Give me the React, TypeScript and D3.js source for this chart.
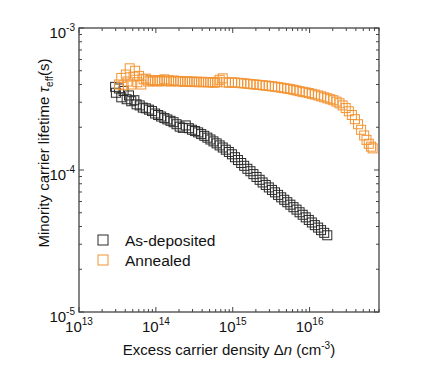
import * as d3 from "d3";

// Excess carrier density (cm^-3) and lifetime (s)
const asDepN = [
  2.95e13, 3.02e13, 3.31e13, 3.55e13, 3.8e13, 4.17e13, 4.47e13, 4.79e13, 5.25e13, 5.62e13,
  6.17e13, 6.76e13, 7.41e13, 8.13e13, 8.91e13, 9.77e13, 1.07e14, 1.17e14, 1.29e14, 1.41e14,
  1.55e14, 1.7e14, 1.86e14, 2.04e14, 2.24e14, 2.45e14, 2.69e14, 2.95e14, 3.24e14, 3.55e14,
  3.89e14, 4.27e14, 4.68e14, 5.13e14, 5.62e14, 6.17e14, 6.76e14, 7.41e14, 8.13e14, 8.91e14,
  9.77e14, 1.07e15, 1.17e15, 1.29e15, 1.41e15, 1.55e15, 1.7e15, 1.86e15, 2.04e15, 2.24e15,
  2.45e15, 2.69e15, 2.95e15, 3.24e15, 3.55e15, 3.89e15, 4.27e15, 4.68e15, 5.13e15, 5.62e15,
  6.17e15, 6.76e15, 7.41e15, 8.13e15, 8.91e15, 9.77e15, 1.07e16, 1.17e16, 1.29e16, 1.41e16,
  1.55e16, 1.7e16,
];
const asDepTau = [
  3.85e-4, 3.5e-4, 3.75e-4, 3.25e-4, 3.6e-4, 3.15e-4, 3.35e-4, 3.05e-4, 3.1e-4, 2.9e-4,
  2.85e-4, 2.75e-4, 2.72e-4, 2.66e-4, 2.6e-4, 2.5e-4, 2.44e-4, 2.38e-4, 2.32e-4, 2.27e-4,
  2.22e-4, 2.17e-4, 2.1e-4, 2.02e-4, 1.98e-4, 2.06e-4, 1.97e-4, 1.92e-4, 1.88e-4, 1.84e-4,
  1.79e-4, 1.74e-4, 1.69e-4, 1.64e-4, 1.59e-4, 1.54e-4, 1.49e-4, 1.44e-4, 1.39e-4, 1.34e-4,
  1.29e-4, 1.23e-4, 1.175e-4, 1.12e-4, 1.07e-4, 1.02e-4, 9.8e-5, 9.35e-5, 8.93e-5, 8.53e-5,
  8.17e-5, 7.85e-5, 7.54e-5, 7.24e-5, 6.96e-5, 6.68e-5, 6.42e-5, 6.17e-5, 5.93e-5, 5.7e-5,
  5.47e-5, 5.26e-5, 5.04e-5, 4.84e-5, 4.64e-5, 4.45e-5, 4.27e-5, 4.09e-5, 3.93e-5, 3.77e-5,
  3.61e-5, 3.47e-5,
];

const annealN = [
  3.31e13, 3.55e13, 3.8e13, 4.07e13, 4.27e13, 4.57e13, 4.79e13, 5.13e13, 5.37e13, 5.75e13,
  6.03e13, 6.46e13, 6.92e13, 7.41e13, 7.94e13, 8.51e13, 9.12e13, 9.77e13, 1.05e14, 1.12e14,
  1.2e14, 1.29e14, 1.38e14, 1.48e14, 1.58e14, 1.7e14, 1.82e14, 1.95e14, 2.09e14, 2.24e14,
  2.4e14, 2.57e14, 2.75e14, 2.95e14, 3.16e14, 3.39e14, 3.63e14, 3.89e14, 4.17e14, 4.47e14,
  4.79e14, 5.13e14, 5.5e14, 5.89e14, 6.31e14, 6.76e14, 7.41e14, 8.13e14, 8.91e14, 9.77e14,
  1.07e15, 1.17e15, 1.29e15, 1.41e15, 1.55e15, 1.7e15, 1.86e15, 2.04e15, 2.24e15, 2.45e15,
  2.69e15, 2.95e15, 3.24e15, 3.55e15, 3.89e15, 4.27e15, 4.68e15, 5.13e15, 5.62e15, 6.17e15,
  6.76e15, 7.41e15, 8.13e15, 8.91e15, 9.77e15, 1.07e16, 1.17e16, 1.29e16, 1.41e16, 1.55e16,
  1.7e16, 1.86e16, 2.04e16, 2.24e16, 2.45e16, 2.69e16, 2.95e16, 3.24e16, 3.55e16, 3.89e16,
  4.27e16, 4.68e16, 5.13e16, 5.5e16, 5.89e16, 6.31e16, 6.61e16,
];
const annealTau = [
  4.0e-4, 4.45e-4, 3.95e-4, 4.7e-4, 4.2e-4, 5.2e-4, 4.0e-4, 4.55e-4, 5.0e-4, 4.15e-4,
  4.6e-4, 4.0e-4, 4.35e-4, 4.4e-4, 4.2e-4, 4.3e-4, 4.22e-4, 4.28e-4, 4.2e-4, 4.3e-4,
  4.22e-4, 4.35e-4, 4.22e-4, 4.28e-4, 4.2e-4, 4.27e-4, 4.23e-4, 4.2e-4, 4.24e-4, 4.2e-4,
  4.18e-4, 4.22e-4, 4.17e-4, 4.2e-4, 4.16e-4, 4.19e-4, 4.15e-4, 4.18e-4, 4.15e-4, 4.17e-4,
  4.14e-4, 4.16e-4, 4.13e-4, 4.12e-4, 4.18e-4, 4.32e-4, 4.42e-4, 4.14e-4, 4.12e-4, 4.14e-4,
  4.13e-4, 4.11e-4, 4.09e-4, 4.07e-4, 4.05e-4, 4.03e-4, 4.01e-4, 3.99e-4, 3.97e-4, 3.95e-4,
  3.93e-4, 3.91e-4, 3.88e-4, 3.86e-4, 3.83e-4, 3.8e-4, 3.77e-4, 3.74e-4, 3.71e-4, 3.67e-4,
  3.63e-4, 3.59e-4, 3.55e-4, 3.52e-4, 3.48e-4, 3.44e-4, 3.4e-4, 3.35e-4, 3.3e-4, 3.25e-4,
  3.2e-4, 3.15e-4, 3.1e-4, 3.03e-4, 2.95e-4, 2.85e-4, 2.73e-4, 2.59e-4, 2.44e-4, 2.28e-4,
  2.1e-4, 1.92e-4, 1.75e-4, 1.63e-4, 1.53e-4, 1.46e-4, 1.42e-4,
];

const xMajor = [1e13, 1e14, 1e15, 1e16];
const xMajorExp = ["13", "14", "15", "16"];
const yMajor = [1e-3, 1e-4, 1e-5];
const yMajorExp = ["-3", "-4", "-5"];
const seriesNames = ["As-deposited", "Annealed"];

const W = 426, H = 373;
const left = 79, right = 379, top = 28, bottom = 312;
const FONT = "Liberation Sans, Arial, sans-serif";
const ORANGE = "#f39433";
const BLACK = "#2a2a2a";
const AXIS = "#444";

export default function App() {
  const x = d3.scaleLog().domain([1e13, 8e16]).range([left, right]);
  const y = d3.scaleLog().domain([1e-5, 1e-3]).range([bottom, top]);

  // minor ticks 2..9 per decade
  const xMinor = x.ticks().filter((t) => !xMajor.includes(t));
  const yMinor = y.ticks().filter((t) => !yMajor.some((m) => Math.abs(m - t) / m < 1e-6));

  const sq = 9;
  const squares = (ns: number[], taus: number[], color: string) =>
    ns.map((n, i) => (
      <rect
        key={i}
        x={x(n) - sq / 2}
        y={y(taus[i]) - sq / 2}
        width={sq}
        height={sq}
        fill="none"
        stroke={color}
        strokeWidth={1}
      />
    ));

  return (
    <svg width={W} height={H} style={{ position: "absolute", left: 0, top: 0 }} fontFamily={FONT}>
      <rect width={W} height={H} fill="white" />

      {/* ticks on all four sides, pointing inward */}
      <g stroke={AXIS} strokeWidth={1}>
        {xMajor.map((t) => (
          <g key={"xM" + t}>
            <line x1={x(t)} x2={x(t)} y1={bottom} y2={bottom - 5} />
            <line x1={x(t)} x2={x(t)} y1={top} y2={top + 5} />
          </g>
        ))}
        {xMinor.map((t) => (
          <g key={"xm" + t}>
            <line x1={x(t)} x2={x(t)} y1={bottom} y2={bottom - 3} />
            <line x1={x(t)} x2={x(t)} y1={top} y2={top + 3} />
          </g>
        ))}
        {yMajor.map((t) => (
          <g key={"yM" + t}>
            <line x1={left} x2={left + 5} y1={y(t)} y2={y(t)} />
            <line x1={right} x2={right - 5} y1={y(t)} y2={y(t)} />
          </g>
        ))}
        {yMinor.map((t) => (
          <g key={"ym" + t}>
            <line x1={left} x2={left + 3} y1={y(t)} y2={y(t)} />
            <line x1={right} x2={right - 3} y1={y(t)} y2={y(t)} />
          </g>
        ))}
      </g>

      {squares(asDepN, asDepTau, BLACK)}
      {squares(annealN, annealTau, ORANGE)}

      <rect x={left} y={top} width={right - left} height={bottom - top} fill="none" stroke={AXIS} strokeWidth={1.3} />

      {/* tick labels */}
      {xMajor.map((t, i) => (
        <text key={"xl" + t} x={x(t)} y={bottom + 20} textAnchor="middle" fontSize={15} fill="#111">
          10<tspan dy={-7} fontSize={10}>{xMajorExp[i]}</tspan>
        </text>
      ))}
      {yMajor.map((t, i) => (
        <text key={"yl" + t} x={left - 4} y={y(t) + 10} textAnchor="end" fontSize={15} fill="#111">
          10<tspan dy={-7} fontSize={10}>{yMajorExp[i]}</tspan>
        </text>
      ))}

      {/* axis titles */}
      <text x={(left + right) / 2} y={355} textAnchor="middle" fontSize={15} fill="#111">
        Excess carrier density Δ<tspan fontStyle="italic">n</tspan> (cm<tspan dy={-6} fontSize={10}>-3</tspan>
        <tspan dy={6}>)</tspan>
      </text>
      <text transform={`translate(49,153) rotate(-90)`} textAnchor="middle" fontSize={15} fill="#111">
        Minority carrier lifetime <tspan fontStyle="italic">τ</tspan>
        <tspan dy={4} fontSize={10}>eff</tspan>
        <tspan dy={-4}>(s)</tspan>
      </text>

      {/* legend */}
      {seriesNames.map((name, i) => (
        <g key={name}>
          <rect x={98} y={235 + i * 20} width={10} height={10} fill="none" stroke={i === 0 ? BLACK : ORANGE} strokeWidth={1} />
          <text x={125} y={246 + i * 20} fontSize={15.5} fill="#111">{name}</text>
        </g>
      ))}
    </svg>
  );
}
